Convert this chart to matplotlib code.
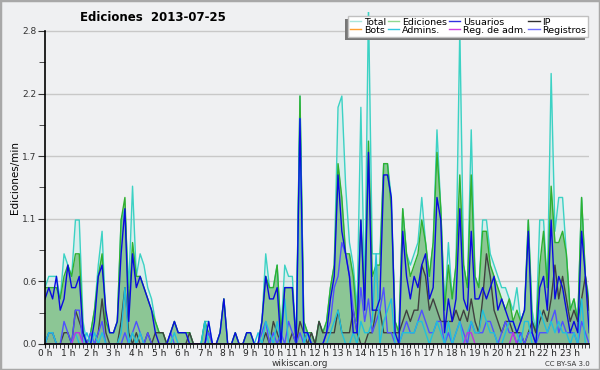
import numpy as np
import matplotlib
matplotlib.use("Agg")
import matplotlib.pyplot as plt
from matplotlib.patches import Rectangle

# ediciones por 10 minutos (cuentas), una fila por hora
total = [
    5, 6, 6, 6, 4, 8,
    7, 6, 11, 11, 2, 0,
    1, 3, 7, 10, 2, 1,
    1, 2, 11, 12, 5, 14,
    6, 8, 7, 5, 4, 2,
    1, 1, 0, 1, 2, 1,
    1, 1, 1, 0, 0, 0,
    2, 2, 0, 0, 1, 4,
    0, 0, 1, 0, 0, 1,
    1, 0, 0, 2, 8, 5,
    5, 7, 1, 7, 6, 6,
    0, 22, 2, 1, 1, 0,
    2, 1, 2, 5, 7, 21,
    22, 14, 9, 7, 3, 21,
    4, 30, 8, 8, 8, 16,
    16, 13, 2, 1, 12, 8,
    7, 8, 9, 13, 9, 6,
    9, 19, 12, 3, 9, 4,
    7, 28, 7, 5, 19, 6,
    5, 11, 11, 8, 7, 6,
    5, 5, 4, 3, 5, 2,
    3, 11, 3, 1, 11, 11,
    5, 24, 10, 13, 13, 8,
    3, 4, 2, 13, 6, 4,
]
ediciones = [
    5, 5, 5, 5, 4, 6,
    7, 6, 8, 8, 1, 0,
    1, 3, 6, 8, 2, 1,
    1, 2, 11, 13, 3, 9,
    6, 6, 5, 4, 3, 2,
    1, 1, 0, 1, 2, 1,
    1, 1, 1, 0, 0, 0,
    2, 1, 0, 0, 1, 4,
    0, 0, 1, 0, 0, 1,
    1, 0, 0, 2, 6, 5,
    5, 7, 1, 5, 5, 5,
    0, 22, 2, 1, 1, 0,
    2, 1, 2, 5, 7, 16,
    13, 8, 8, 6, 2, 11,
    4, 18, 6, 7, 7, 16,
    16, 12, 2, 1, 12, 8,
    6, 7, 8, 11, 9, 6,
    9, 17, 12, 3, 7, 4,
    7, 15, 7, 5, 15, 6,
    5, 10, 10, 7, 6, 5,
    4, 3, 4, 2, 3, 2,
    3, 11, 2, 1, 7, 10,
    5, 14, 9, 9, 10, 8,
    3, 4, 2, 13, 6, 3,
]
usuarios = [
    4, 5, 4, 6, 3, 4,
    7, 5, 5, 6, 1, 0,
    0, 2, 6, 7, 3, 1,
    1, 2, 8, 12, 2, 8,
    5, 6, 5, 4, 3, 1,
    0, 0, 0, 1, 2, 1,
    1, 1, 0, 0, 0, 0,
    0, 2, 0, 0, 1, 4,
    0, 0, 1, 0, 0, 1,
    1, 0, 0, 2, 6, 4,
    4, 5, 0, 5, 5, 5,
    0, 20, 1, 1, 0, 0,
    0, 0, 1, 4, 6, 15,
    10, 8, 6, 1, 1, 11,
    3, 17, 3, 3, 4, 15,
    15, 13, 1, 0, 10, 6,
    4, 6, 5, 7, 8, 4,
    5, 13, 11, 1, 4, 2,
    4, 12, 4, 3, 10, 4,
    4, 5, 4, 5, 6, 3,
    4, 3, 2, 2, 1, 2,
    3, 10, 1, 0, 5, 6,
    3, 11, 4, 6, 5, 3,
    1, 2, 1, 10, 6, 1,
]
ip = [
    0, 1, 1, 0, 0, 1,
    1, 0, 3, 2, 1, 0,
    0, 0, 1, 4, 1, 0,
    0, 0, 2, 5, 1, 0,
    1, 0, 0, 1, 0, 1,
    1, 1, 0, 0, 0, 0,
    0, 0, 1, 0, 0, 0,
    0, 0, 0, 0, 0, 0,
    0, 0, 0, 0, 0, 0,
    0, 0, 0, 0, 1, 0,
    2, 1, 0, 0, 0, 1,
    0, 2, 1, 0, 1, 0,
    2, 1, 1, 1, 1, 3,
    1, 1, 1, 3, 1, 0,
    0, 1, 1, 3, 3, 1,
    1, 1, 1, 1, 2, 3,
    2, 3, 3, 7, 6, 3,
    4, 3, 2, 2, 2, 2,
    3, 2, 3, 2, 4, 2,
    1, 4, 8, 6, 3, 2,
    1, 2, 2, 1, 1, 1,
    0, 1, 2, 1, 2, 3,
    2, 4, 7, 4, 6, 4,
    2, 3, 2, 4, 6, 3,
]
admins = [
    0, 1, 1, 0, 0, 0,
    0, 0, 1, 0, 0, 1,
    0, 1, 0, 1, 0, 0,
    0, 0, 1, 5, 0, 1,
    0, 1, 0, 0, 0, 0,
    0, 0, 0, 0, 1, 0,
    0, 0, 0, 0, 0, 0,
    2, 0, 0, 0, 0, 0,
    0, 0, 0, 0, 0, 0,
    0, 0, 1, 0, 2, 1,
    0, 2, 0, 4, 0, 0,
    0, 20, 0, 1, 0, 0,
    0, 0, 0, 1, 2, 3,
    1, 0, 0, 1, 0, 2,
    1, 1, 2, 8, 0, 2,
    3, 4, 0, 0, 1, 1,
    1, 1, 2, 2, 1, 0,
    1, 2, 1, 0, 2, 0,
    1, 2, 0, 1, 2, 1,
    1, 3, 2, 1, 1, 0,
    0, 1, 2, 2, 1, 0,
    2, 2, 0, 0, 3, 2,
    1, 2, 1, 2, 1, 1,
    0, 1, 0, 4, 0, 0,
]
registros = [
    0, 1, 1, 0, 0, 2,
    1, 0, 3, 3, 0, 0,
    1, 0, 1, 2, 0, 0,
    0, 0, 0, 1, 0, 1,
    2, 1, 0, 1, 0, 0,
    0, 0, 0, 1, 0, 0,
    0, 0, 0, 0, 0, 0,
    0, 1, 0, 0, 0, 0,
    0, 0, 0, 0, 0, 0,
    0, 0, 0, 1, 2, 0,
    1, 0, 1, 0, 2, 1,
    0, 1, 0, 1, 0, 0,
    0, 0, 1, 2, 5, 6,
    9, 8, 6, 3, 1, 5,
    2, 4, 1, 2, 3, 5,
    1, 1, 0, 0, 1, 2,
    1, 1, 2, 3, 2, 1,
    1, 2, 2, 0, 1, 0,
    1, 2, 1, 0, 2, 1,
    1, 1, 2, 2, 1, 0,
    1, 2, 1, 1, 0, 1,
    0, 1, 1, 0, 1, 1,
    1, 2, 3, 1, 2, 1,
    1, 1, 0, 2, 1, 0,
]
reg_adm = [0] * 144
for k in (8, 9, 111, 112, 123):
    reg_adm[k] = 1
bots = [0] * 144

hour_labels = ["%d h" % h for h in range(24)]

# cuentas por 10 min -> ediciones/min
x = np.arange(144) / 6.0
def per_min(v):
    return np.array(v) / 10.0

bg = "#eff0f2"
fig = plt.figure(figsize=(6, 3.7), dpi=100, facecolor=bg)
ax = fig.add_axes([0.075, 0.0703, 0.907, 0.8986], facecolor=bg)

ax.fill_between(x, per_min(total), color="#40d8c8", alpha=0.12, lw=0)
ax.fill_between(x, per_min(ediciones), color="#40a040", alpha=0.5, lw=0)
ax.fill_between(x, per_min(ip), color="#406080", alpha=0.12, lw=0)
ax.plot(x, per_min(bots), color="#ff9a20", lw=1)
ax.plot(x, per_min(total), color="#3cd2c4", lw=1)
ax.plot(x, per_min(ediciones), color="#30b030", lw=1)
ax.plot(x, per_min(ip), color="#404040", lw=1)
ax.plot(x, per_min(registros), color="#5050ff", lw=1)
ax.plot(x, per_min(admins), color="#20c0dc", lw=1)
ax.plot(x, per_min(usuarios), color="#0a0ae0", lw=1)
ax.plot(x, per_min(reg_adm), color="#c030e0", lw=1)

ymax = 5 * 5 / 9
ax.set_xlim(0, 143 / 6)
ax.set_ylim(0, 2.95)
ax.set_yticks([k * 5 / 9 for k in range(6)])
ax.set_yticklabels(["%.1f" % (k * 5 / 9) for k in range(6)])
ax.set_yticks([(k + 0.5) * 5 / 9 for k in range(5)], minor=True)
ax.set_xticks(range(24))
ax.set_xticklabels(hour_labels)
ax.set_xticks(np.arange(144) / 6.0, minor=True)
ax.tick_params(axis="y", which="major", length=5, labelsize=6.5, colors="#333333", pad=1)
ax.tick_params(axis="y", which="minor", length=4, color="#333333")
ax.tick_params(axis="x", which="both", length=3, labelsize=6.5, pad=0.5, colors="#222222")
ax.grid(axis="y", color="#c8c8c8", lw=1)
ax.set_axisbelow(True)
for s in ("top", "right"):
    ax.spines[s].set_visible(False)
ax.spines["left"].set_bounds(0, ymax)
ax.spines["left"].set_linewidth(1.2)
ax.spines["bottom"].set_linewidth(1.2)
ax.set_ylabel("Ediciones/min", fontsize=7.5, labelpad=2)

fig.text(0.255, 0.953, "Ediciones  2013-07-25", fontsize=8.5, fontweight="bold",
         ha="center", va="center")
fig.text(0.5, 0.017, "wikiscan.org", fontsize=6.5, ha="center", va="center", color="#333333")
fig.text(0.983, 0.017, "CC BY-SA 3.0", fontsize=5, ha="right", va="center", color="#333333")

names = ["Total", "Bots", "Ediciones", "Admins.", "Usuarios", "Reg. de adm.", "IP", "Registros"]
colors = ["#a8e6dc", "#ffa030", "#90d890", "#30c8e0", "#3030e0", "#d040e0", "#303030", "#7070ff"]
handles = [plt.Line2D([], [], color=c, lw=1) for c in colors]
leg = fig.legend(handles, names, ncol=4, loc="upper right",
                 bbox_to_anchor=(593 / 600, 1 - 11 / 370), fontsize=6.8,
                 handlelength=1.2, handletextpad=0.3, columnspacing=0.2,
                 borderpad=0.2, labelspacing=-0.1, fancybox=False,
                 framealpha=1, facecolor="white", edgecolor="#c0c0c0")
leg.set_zorder(5)
fig.canvas.draw()
bb = leg.get_window_extent().transformed(fig.transFigure.inverted())
fig.patches.append(Rectangle((bb.x0 - 3 / 600, bb.y0 - 3 / 370), bb.width, bb.height,
                             transform=fig.transFigure, facecolor="#777777",
                             edgecolor="none", zorder=4))

fig.patches.append(Rectangle((0, 0), 1, 1, transform=fig.transFigure, fill=False,
                             edgecolor="#a8a8a8", lw=2.5, zorder=10))

fig.savefig("out.png", dpi=100, facecolor=bg)
